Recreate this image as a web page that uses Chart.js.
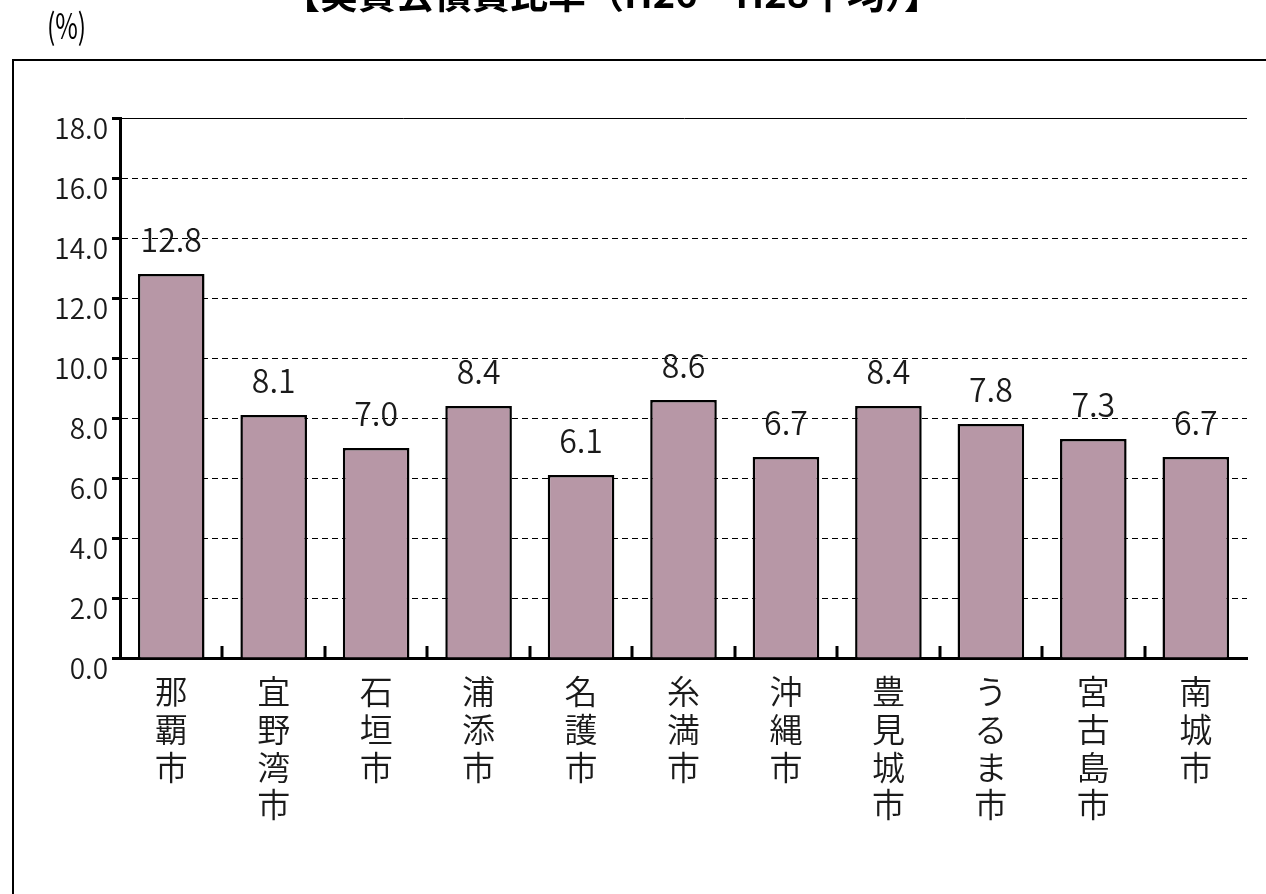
<!DOCTYPE html>
<html lang="ja">
<head>
<meta charset="utf-8">
<script src="https://cdn.jsdelivr.net/npm/chart.js"></script>
<style>
html,body{margin:0;padding:0;background:#fff;overflow:hidden}
#wrap{position:relative;width:1266px;height:894px}
</style>
</head>
<body>
<div id="wrap"><canvas id="ratioChart"></canvas></div>
<script>
const cities=["那覇市","宜野湾市","石垣市","浦添市","名護市","糸満市","沖縄市","豊見城市","うるま市","宮古島市","南城市"];
const ratios=[12.8,8.1,7.0,8.4,6.1,8.6,6.7,8.4,7.8,7.3,6.7];
const yTicks=[0,2,4,6,8,10,12,14,16,18];
const titleText="【実質公債費比率（H26～H28平均）】";
const unitText="(%)";

const FONT="'Noto Sans CJK JP','Noto Sans',sans-serif";

// white page, outer frame, title and unit caption
const frame={
  id:"frame",
  beforeDraw(chart){
    const c=chart.ctx;
    c.save();
    c.fillStyle="#fff";
    c.fillRect(0,0,chart.width,chart.height);
    c.strokeStyle="#000";
    c.lineWidth=2;
    c.strokeRect(13,60,chart.width,chart.height);
    c.fillStyle="#000";
    c.textBaseline="alphabetic";
    c.textAlign="center";
    c.font=`bold 38px ${FONT}`;
    c.fillText(titleText,612,8);
    // the unit caption is narrow and tall
    c.textAlign="left";
    c.font=`35px ${FONT}`;
    c.translate(47,39);
    c.scale(0.7,1);
    c.fillText(unitText,0,0);
    c.restore();
  }
};

// short upward marks between categories on the x axis
const xTicks={
  id:"xTicks",
  afterDraw(chart){
    const x=chart.scales.x,y0=chart.chartArea.bottom,c=chart.ctx;
    c.save();
    c.strokeStyle="#000";
    c.lineWidth=3;
    c.beginPath();
    for(let i=0;i<cities.length-1;i++){
      const px=Math.round((x.getPixelForValue(i)+x.getPixelForValue(i+1))/2);
      c.moveTo(px,y0);
      c.lineTo(px,y0-12);
    }
    c.stroke();
    c.restore();
  }
};

// value above each bar
const valueLabels={
  id:"valueLabels",
  afterDatasetsDraw(chart){
    const c=chart.ctx;
    c.save();
    c.font=`350 32px ${FONT}`;
    c.fillStyle="#1a1a1a";
    c.textAlign="center";
    c.textBaseline="alphabetic";
    chart.getDatasetMeta(0).data.forEach((bar,i)=>{
      c.fillText(ratios[i].toFixed(1),bar.x,bar.y-22);
    });
    c.restore();
  }
};

new Chart(document.getElementById("ratioChart"),{
  type:"bar",
  data:{
    labels:cities,
    datasets:[{
      data:ratios,
      backgroundColor:"#b797a6",
      borderColor:"#000",
      borderWidth:2.5,
      categoryPercentage:0.65,
      barPercentage:1
    }]
  },
  options:{
    responsive:true,
    maintainAspectRatio:false,
    animation:false,
    layout:{padding:{top:118,right:19,left:0,bottom:0}},
    plugins:{legend:{display:false},tooltip:{enabled:false}},
    scales:{
      x:{
        grid:{display:false},
        border:{display:true,color:"#000",width:3},
        ticks:{
          color:"#1a1a1a",
          font:{family:FONT,size:33,weight:350,lineHeight:1.14},
          padding:7,
          maxRotation:0,
          minRotation:0,
          autoSkip:false,
          callback:(v,i)=>[...cities[i]]
        },
        afterFit:s=>{s.height=236;}
      },
      y:{
        min:0,
        max:18,
        afterBuildTicks:s=>{s.ticks=yTicks.map(v=>({value:v}));},
        grid:{color:"#000",lineWidth:1,tickLength:8,tickWidth:3,tickColor:"#000",tickBorderDash:[]},
        border:{display:true,color:"#000",width:3,dash:ctx=>ctx.tick&&ctx.tick.value===18?[]:[6,4]},
        ticks:{
          color:"#1a1a1a",
          font:{family:FONT,size:28,weight:350},
          padding:4,
          labelOffset:10,
          callback:v=>v.toFixed(1)
        },
        afterFit:s=>{s.width=120;}
      }
    }
  },
  plugins:[frame,xTicks,valueLabels]
});
</script>
</body>
</html>
